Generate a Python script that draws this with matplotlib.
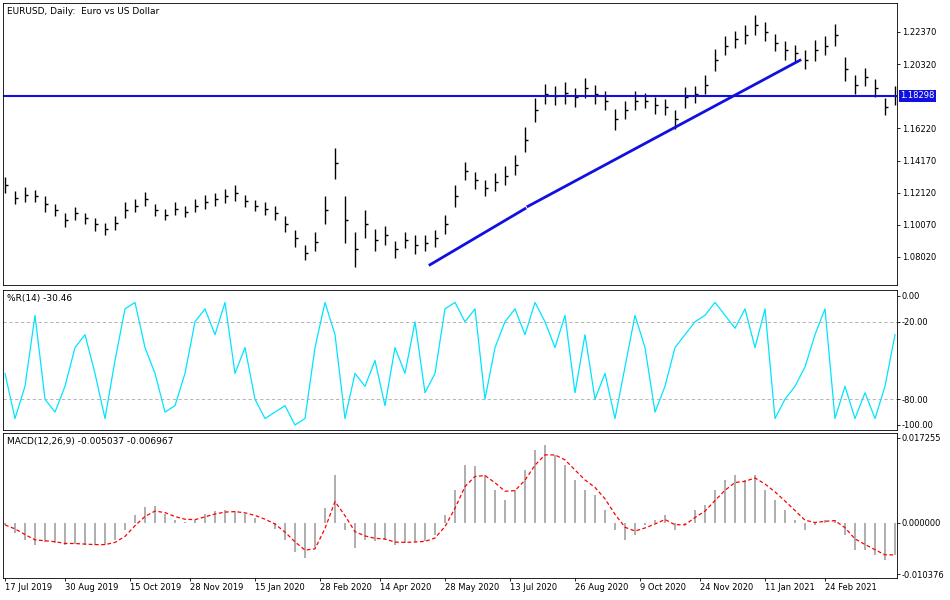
import matplotlib.pyplot as plt
import pandas as pd

# weekly-ish samples (about 5 trading days apart)
closes = [1.126, 1.118, 1.120, 1.119, 1.114, 1.110, 1.104, 1.108, 1.105, 1.101,
          1.098, 1.102, 1.110, 1.113, 1.117, 1.110, 1.107, 1.111, 1.109, 1.113,
          1.115, 1.117, 1.119, 1.121, 1.116, 1.113, 1.111, 1.108, 1.101, 1.092,
          1.083, 1.090, 1.110, 1.140, 1.104, 1.085, 1.101, 1.091, 1.094, 1.085,
          1.091, 1.088, 1.089, 1.092, 1.101, 1.119, 1.135, 1.129, 1.124, 1.128,
          1.132, 1.139, 1.155, 1.174, 1.184, 1.183, 1.185, 1.182, 1.188, 1.184,
          1.180, 1.168, 1.174, 1.180, 1.180, 1.177, 1.176, 1.168, 1.182, 1.184,
          1.190, 1.206, 1.215, 1.219, 1.222, 1.228, 1.224, 1.217, 1.212, 1.210,
          1.206, 1.212, 1.215, 1.222, 1.200, 1.190, 1.195, 1.188, 1.176, 1.183]
ranges = [0.010, 0.008, 0.009, 0.008, 0.010, 0.008, 0.009, 0.008, 0.007, 0.008,
          0.008, 0.009, 0.010, 0.008, 0.009, 0.008, 0.007, 0.008, 0.007, 0.008,
          0.009, 0.008, 0.009, 0.010, 0.008, 0.007, 0.008, 0.009, 0.010, 0.011,
          0.010, 0.012, 0.018, 0.020, 0.030, 0.022, 0.018, 0.014, 0.012, 0.011,
          0.010, 0.012, 0.010, 0.011, 0.012, 0.014, 0.012, 0.011, 0.010, 0.011,
          0.012, 0.013, 0.016, 0.015, 0.013, 0.012, 0.014, 0.012, 0.013, 0.012,
          0.012, 0.013, 0.011, 0.012, 0.010, 0.011, 0.010, 0.012, 0.013, 0.011,
          0.012, 0.014, 0.012, 0.011, 0.012, 0.013, 0.012, 0.011, 0.012, 0.011,
          0.012, 0.013, 0.012, 0.014, 0.015, 0.012, 0.011, 0.012, 0.011, 0.012]
willr = [-60, -95, -70, -15, -80, -90, -70, -40, -30, -60, -95, -50, -10, -5, -40,
         -60, -90, -85, -60, -20, -10, -30, -5, -60, -40, -80, -95, -90, -85, -100,
         -95, -40, -5, -30, -95, -60, -70, -50, -85, -40, -60, -20, -75, -60, -10,
         -5, -20, -10, -80, -40, -20, -10, -30, -5, -20, -40, -15, -75, -30, -80,
         -60, -95, -55, -15, -40, -90, -70, -40, -30, -20, -15, -5, -15, -25, -10,
         -40, -10, -95, -80, -70, -55, -30, -10, -95, -70, -95, -75, -95, -70, -30]
macd = [-0.0004, -0.0020, -0.0035, -0.0045, -0.0038, -0.0040, -0.0045, -0.0042, -0.0044, -0.0045,
        -0.0044, -0.0035, -0.0015, 0.0016, 0.0032, 0.0035, 0.0018, 0.0005, 0.0002, 0.0006,
        0.0018, 0.0024, 0.0026, 0.0024, 0.0018, 0.0010, 0.0000, -0.0012, -0.0035, -0.0058,
        -0.0072, -0.0050, 0.0030, 0.0098, -0.0014, -0.0050, -0.0035, -0.0036, -0.0034, -0.0045,
        -0.0040, -0.0038, -0.0036, -0.0024, 0.0016, 0.0067, 0.0118, 0.0115, 0.0098, 0.0067,
        0.0047, 0.0067, 0.0108, 0.0148, 0.0159, 0.0138, 0.0118, 0.0087, 0.0067, 0.0057,
        0.0026, -0.0014, -0.0035, -0.0024, -0.0004, 0.0006, 0.0016, -0.0014, -0.0004, 0.0026,
        0.0037, 0.0067, 0.0087, 0.0098, 0.0087, 0.0098, 0.0067, 0.0047, 0.0026, 0.0006,
        -0.0014, -0.0004, 0.0006, 0.0006, -0.0024, -0.0055, -0.0055, -0.0065, -0.0075, -0.0065]
signal = pd.Series(macd).ewm(span=3, adjust=False).mean()

date_labels = ['17 Jul 2019', '30 Aug 2019', '15 Oct 2019', '28 Nov 2019', '15 Jan 2020',
               '28 Feb 2020', '14 Apr 2020', '28 May 2020', '13 Jul 2020', '26 Aug 2020',
               '9 Oct 2020', '24 Nov 2020', '11 Jan 2021', '24 Feb 2021']
date_pos = [0, 6, 12.5, 18.5, 25, 31.5, 37.5, 44, 50.5, 57, 63.5, 69.5, 76, 82]

last_price = 1.18298
trend_a = ([42.5, 52], [1.0752, 1.1110])
trend_b = ([52.3, 79.5], [1.1125, 1.2057])

price_ticks = [1.22370, 1.20320, 1.16220, 1.14170, 1.12120, 1.10070, 1.08020]
macd_ticks = [0.017255, 0.0, -0.010376]

fig = plt.figure(figsize=(9.5, 6), dpi=100)
L, W = 3 / 950, 894 / 950
ax1 = fig.add_axes([L, 0.525, W, 0.47])
ax2 = fig.add_axes([L, 0.2833, W, 0.2333])
ax3 = fig.add_axes([L, 0.0367, W, 0.2417])
x = list(range(len(closes)))

for ax in (ax1, ax2, ax3):
    ax.set_xlim(-0.2, 89.2)
    ax.yaxis.tick_right()
    ax.tick_params(labelsize=6, length=2, width=0.6, pad=1.5, colors='black')
    for s in ax.spines.values():
        s.set_linewidth(0.6)

# price bars
lows = [c - r / 2 for c, r in zip(closes, ranges)]
highs = [c + r / 2 for c, r in zip(closes, ranges)]
ax1.vlines(x, lows, highs, color='black', lw=1)
ax1.hlines(closes, [i for i in x], [i + 0.3 for i in x], color='black', lw=1)
ax1.axhline(last_price, color='#1010e0', lw=1.5)
ax1.plot(*trend_a, color='#1010e0', lw=2)
ax1.plot(*trend_b, color='#1010e0', lw=2)
ax1.set_ylim(1.0623, 1.2422)
ax1.set_yticks(price_ticks)
ax1.set_yticklabels([f'{v:.5f}' for v in price_ticks])
ax1.set_xticks([])
ax1.text(1.004, last_price, f'{last_price:.5f}', transform=ax1.get_yaxis_transform(),
         fontsize=6, color='white', va='center', ha='left',
         bbox=dict(boxstyle='square,pad=0.15', facecolor='#1010e0', edgecolor='none'), clip_on=False)
ax1.text(0.004, 0.985, 'EURUSD, Daily:  Euro vs US Dollar', transform=ax1.transAxes,
         fontsize=6.5, va='top')

# Williams %R
ax2.plot(x, willr, color='#00e5ff', lw=0.9)
for lv in (-20, -80):
    ax2.axhline(lv, color='#aaaaaa', lw=0.6, ls=(0, (4, 3)))
ax2.set_ylim(-103.9, 4.6)
ax2.set_yticks([0, -20, -80, -100])
ax2.set_yticklabels(['0.00', '-20.00', '-80.00', '-100.00'])
ax2.set_xticks([])
ax2.text(0.004, 0.97, '%R(14) -30.46', transform=ax2.transAxes, fontsize=6.5, va='top')

# MACD
ax3.bar(x, macd, width=0.2, color='#b0b0b0')
ax3.plot(x, signal, color='red', lw=0.9, ls=(0, (3, 2)))
ax3.set_ylim(-0.01117, 0.01827)
ax3.set_yticks(macd_ticks)
ax3.set_yticklabels([f'{v:.6f}' for v in macd_ticks])
ax3.set_xticks(date_pos)
ax3.set_xticklabels(date_labels, ha='left')
ax3.text(0.004, 0.97, 'MACD(12,26,9) -0.005037 -0.006967', transform=ax3.transAxes,
         fontsize=6.5, va='top')

fig.savefig('out.png', dpi=100, facecolor='white')
